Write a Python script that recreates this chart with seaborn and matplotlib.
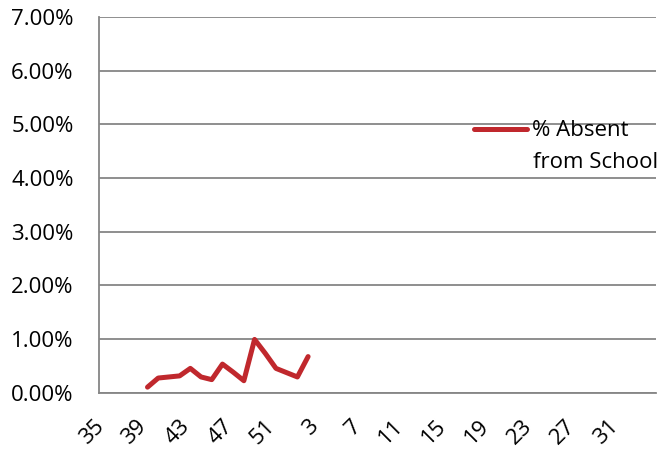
import matplotlib
matplotlib.use("Agg")
import matplotlib.pyplot as plt
from matplotlib.ticker import FixedLocator, FuncFormatter
from matplotlib.transforms import ScaledTranslation
import numpy as np
import pandas as pd
import seaborn as sns

# school weeks 35..52 then 1..34
weeks = [str(w) for w in range(35, 53)] + [str(w) for w in range(1, 35)]
# % absent from school (in percent), only weeks 39..2 have data
absent = [np.nan] * 4 + [0.10, 0.27, 0.29, 0.31, 0.45, 0.29, 0.24, 0.53, 0.38, 0.22,
                         0.99, 0.73, 0.45, 0.37, 0.29, 0.67]
absent = absent + [np.nan] * (len(weeks) - len(absent))

df = pd.DataFrame({"week": weeks, "pos": np.arange(len(weeks)), "absent": absent})

sns.set_style("white")
plt.rcParams["font.family"] = ["Open Sans", "DejaVu Sans"]
plt.rcParams["text.color"] = "black"
grey = "#868686"
red = "#C0282D"
fs = 16

fig = plt.figure(figsize=(6.64, 4.49), dpi=100)
ax = fig.add_axes([0.1496, 0.1258, 0.8384, 0.8362])

sns.lineplot(data=df, x="pos", y="absent", color=red, linewidth=3.6,
             label="% Absent", ax=ax)

ax.set_xlim(-0.5, len(weeks) - 0.5)
ax.set_ylim(0, 7)
ax.set_yticks(np.arange(0, 8, 1))
ax.yaxis.set_major_formatter(FuncFormatter(lambda v, p: f"{v:.2f}%"))
ax.grid(axis="y", color=grey, linewidth=1.3)
ax.set_axisbelow(True)

ax.xaxis.set_major_locator(FixedLocator(df["pos"][::4].tolist()))
ax.set_xticklabels(df["week"][::4].tolist(), rotation=45, ha="right", va="top",
                   rotation_mode="default")
ax.xaxis.set_minor_locator(FixedLocator(np.arange(len(weeks) + 1) - 0.5))
ax.tick_params(axis="x", which="major", length=0, pad=17, labelsize=fs, labelcolor="black")
ax.tick_params(axis="x", which="minor", length=6, width=1.3, color=grey, direction="out")
ax.tick_params(axis="y", which="major", length=6.5, width=1.3, color=grey, labelsize=fs,
               labelcolor="black", pad=12, direction="out")
# nudge the rotated week labels a little to the right
shift = ScaledTranslation(3.5 / 100, 0, fig.dpi_scale_trans)
for lab in ax.get_xticklabels():
    lab.set_transform(lab.get_transform() + shift)
ax.set_xlabel("")
ax.set_ylabel("")

for side in ["top", "right"]:
    ax.spines[side].set_visible(False)
for side in ["left", "bottom"]:
    ax.spines[side].set_color(grey)
    ax.spines[side].set_linewidth(1.3)

ax.legend(loc="center left", bbox_to_anchor=(474 / 664, 1 - 131 / 449),
          bbox_transform=fig.transFigure, frameon=False, fontsize=fs,
          handlelength=2.4, handletextpad=0.2, borderpad=0, borderaxespad=0,
          labelcolor="black")
# second line of the legend label
fig.text(533 / 664, 1 - 162 / 449, "from School", fontsize=fs, va="center", ha="left")

fig.savefig("out.png", dpi=100)
